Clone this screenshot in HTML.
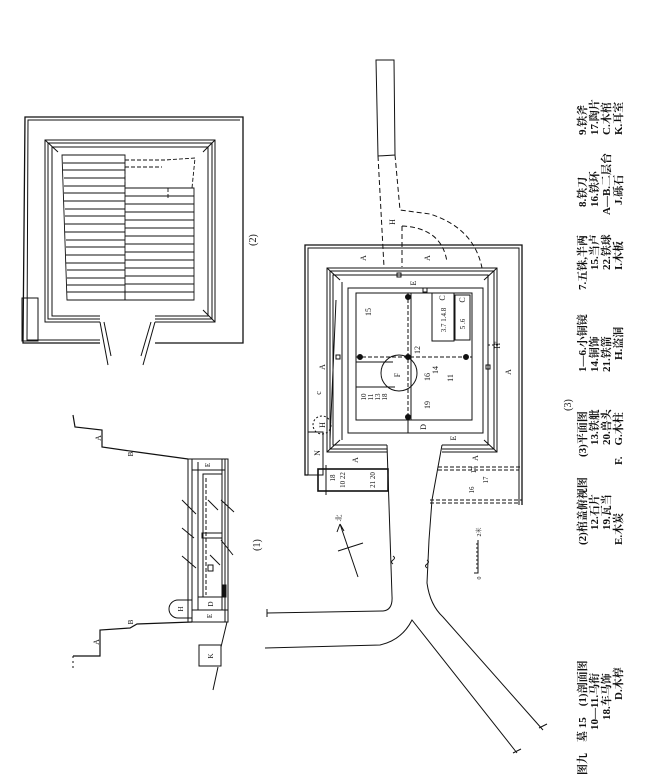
<!DOCTYPE html>
<html><head><meta charset="utf-8"><style>
html,body{margin:0;padding:0;background:#fff;}
#w{position:relative;width:645px;height:780px;overflow:hidden;background:#fff;}
svg{position:absolute;left:0;top:0;}
.t{position:absolute;transform-origin:0 0;transform:rotate(-90deg);white-space:nowrap;font-family:"Liberation Serif","Noto Serif CJK SC",serif;font-size:11px;line-height:12px;font-weight:bold;color:#111;}
</style></head><body><div id="w">
<svg width="645" height="780" viewBox="0 0 645 780" fill="none" stroke="#111" stroke-width="1">
<!-- (2) lid view -->
<path d="M100 343 L23 343 L25 117 L243 117 L243 343 L155 343" stroke-width="1.3"/>
<path d="M100 340 L27 340 L28 120 L240 120"/>
<path d="M100 322 L45 322 L45 140 L215 140 L215 322 L155 322"/>
<path d="M100 319 L48 319 L48 143 L212 143 L212 319 L155 319"/>
<path d="M100 316 L52 316 L52 147 L208 147 L208 316 L155 316"/>
<path d="M45 140 L58 152 M215 140 L203 152 M215 322 L203 310"/>
<path d="M100 322 L108 365 M104 322 L111 356 M155 322 L143 365 M151 322 L141 356"/>
<rect x="22" y="298" width="16" height="43"/>
<g stroke-width="0.9">
<path d="M62 155 L125 155 L125 300 L67 300 Z"/>
<path d="M125 188 L194 188 L194 300 L125 300"/>
<path d="M63 163 H125 M63 170 H125 M64 178 H125 M64 186 H125 M64 193 H125 M64 201 H125 M65 209 H125 M65 216 H125 M65 224 H125 M65 232 H125 M66 240 H125 M66 247 H125 M66 255 H125 M66 263 H125 M67 270 H125 M67 278 H125 M67 285 H125 M67 292 H125"/>
<path d="M125 196 H194 M125 204 H194 M125 212 H194 M125 220 H194 M125 228 H194 M125 236 H194 M125 244 H194 M125 252 H194 M125 260 H194 M125 268 H194 M125 276 H194 M125 284 H194 M125 292 H194"/>
<path d="M125 160 H165 L195 158 L192 188 M125 167 H162 M125 186 V167 M125 188 H165 M168 188 V198" stroke-dasharray="4 2"/>
<path d="M125 290 V300"/>
</g>
<!-- plan (3) top passage -->
<path d="M376 60 L394 60 L395 155 L378 156 Z"/>
<g stroke-dasharray="5 3">
<path d="M378 156 L384 267 M395 155 L400 210 L430 214 Q 474 228 482 268 M402 226 L402 267 M402 226 Q 442 228 447 262"/>
</g>
<!-- outer frame -->
<path d="M308 475 L305 475 L305 245 L522 245 L522 505" stroke-width="1.3"/>
<path d="M308 475 L308 248 L519 248 L519 505"/>
<!-- middle frames -->
<path d="M387 452 L327 452 L327 268 L497 268 L497 452 L442 452"/>
<path d="M387 449 L330 449 L330 271 L494 271 L494 449 L442 449"/>
<path d="M387 445 L333 445 L333 275 L488 275 L488 445 L442 445"/>
<path d="M327 268 L340 280 M497 268 L484 280 M497 452 L484 440 M327 452 L340 440"/>
<rect x="348" y="288" width="135" height="145"/>
<rect x="356" y="293" width="116" height="127"/>
<path d="M342 282 L342 440 M336 300 L330 440"/>
<!-- cross -->
<path d="M408 293 V420 M356 357 H472" stroke-dasharray="4 2"/>
<path d="M411 293 V420 M356 362 H393 M356 387 H395 M408 420 V433"/>
<circle cx="399" cy="373" r="18"/>
<g fill="#111"><circle cx="408" cy="297" r="2.5"/><circle cx="360" cy="357" r="2.5"/><circle cx="408" cy="357" r="2.5"/><circle cx="466" cy="357" r="2.5"/><circle cx="408" cy="417" r="2.5"/></g>
<rect x="397" y="273" width="4" height="4"/><rect x="423" y="288" width="4" height="4"/><rect x="486" y="365" width="4" height="4"/><rect x="336" y="355" width="4" height="4"/>
<rect x="432" y="293" width="22" height="48"/><rect x="455" y="295" width="15" height="45"/>
<circle cx="322" cy="425" r="9" stroke-dasharray="2 2"/>
<path d="M488 345 L500 345" stroke-dasharray="2 2"/>
<rect x="308" y="432" width="15" height="43"/>
<rect x="318" y="469" width="70" height="22" stroke-width="1.6"/>
<path d="M326 465 V495"/>
<!-- bottom right dashed ext -->
<path d="M438 467 H522 M438 470 H519 M430 500 H522 M430 503 H519" stroke-dasharray="4 2"/>
<path d="M522 467 V505 M519 470 V505"/>
<!-- ramp / road -->
<path d="M387 445 L392 596 Q393 610 383 611 L267 613 M267 609 V617"/>
<path d="M442 445 L432 500 L429 540 L427 583 Q430 605 443 617 L543 730 M539 728 L547 724"/>
<path d="M265 648 L380 645 Q402 640 412 620 L517 753 M513 753 L521 749"/>
<path d="M393 556 q3 2 0 4 q-3 2 0 4 M427 560 q3 2 0 4 q-3 2 0 4"/>
<!-- north arrow -->
<path d="M358 577 L340 524 M338 551 L363 543 M340 524 L337 532 M340 524 L344 531"/>
<!-- scale -->
<path d="M478 540 V573 H474 M478 544 H476 M478 548 H476 M478 552 H476 M478 556 H476 M478 560 H476 M478 564 H476 M478 568 H476"/>
<!-- section (1) -->
<path d="M73 415 L75 427 L102 430 L102 447 L137 452 L188 459" stroke-width="1.2"/>
<path d="M192 622 L137 624 L130 628 L100 630 L100 656 L73 656" stroke-width="1.2"/>
<path d="M73 656 V668" stroke-dasharray="2 3"/>
<rect x="188" y="459" width="40" height="163"/>
<path d="M192 459 V622 M198 462 V610 M222 459 V610 M225 459 V622"/>
<path d="M192 470 H225 M198 597 H222 M192 610 H228"/>
<rect x="203" y="474" width="19" height="123"/>
<path d="M206 478 V595" stroke-dasharray="4 2"/>
<rect x="202" y="533" width="20" height="5"/>
<rect x="208" y="565" width="5" height="6"/>
<rect x="222" y="585" width="4" height="12" fill="#111"/>
<path d="M192 600 L178 600 A9 9 0 0 0 178 618 L192 618"/>
<path d="M227 622 L221 647 M218 667 L213 690"/>
<rect x="199" y="645" width="22" height="21"/>
<path d="M182 500 L196 514 M182 528 L194 538 M182 556 L196 568 M208 500 L218 510 M210 555 L220 565 M221 500 L234 512 M221 540 L233 555"/>
</svg>
<svg width="645" height="780" style="font-family:'Liberation Serif','Noto Serif CJK SC',serif;font-size:8px;" fill="#111">
<g text-anchor="middle">
<text transform="rotate(-90 253 240)" x="253" y="243" font-size="10">(2)</text>
<text transform="rotate(-90 257 545)" x="257" y="548" font-size="10">(1)</text>
<text transform="rotate(-90 568 405)" x="568" y="408" font-size="10">(3)</text>
<text transform="rotate(-90 363 258)" x="363" y="261">A</text>
<text transform="rotate(-90 427 258)" x="427" y="261">A</text>
<text transform="rotate(-90 322 367)" x="322" y="370">A</text>
<text transform="rotate(-90 508 372)" x="508" y="375">A</text>
<text transform="rotate(-90 355 460)" x="355" y="463">A</text>
<text transform="rotate(-90 475 458)" x="475" y="461">A</text>
<text transform="rotate(-90 318 393)" x="318" y="396">c</text>
<text transform="rotate(-90 322 425)" x="322" y="428">H</text>
<text transform="rotate(-90 317 453)" x="317" y="456">N</text>
<text transform="rotate(-90 392 222)" x="392" y="225">H</text>
<text transform="rotate(-90 413 283)" x="413" y="286">E</text>
<text transform="rotate(-90 453 438)" x="453" y="441">E</text>
<text transform="rotate(-90 423 427)" x="423" y="430">D</text>
<text transform="rotate(-90 368 312)" x="368" y="315">15</text>
<text transform="rotate(-90 397 375)" x="397" y="378">F</text>
<text transform="rotate(-90 427 377)" x="427" y="380">16</text>
<text transform="rotate(-90 435 370)" x="435" y="373">14</text>
<text transform="rotate(-90 450 378)" x="450" y="381">11</text>
<text transform="rotate(-90 417 350)" x="417" y="353">12</text>
<text transform="rotate(-90 427 405)" x="427" y="408">19</text>
<text transform="rotate(-90 442 298)" x="442" y="301">C</text>
<text transform="rotate(-90 462 300)" x="462" y="303">C</text>
<text transform="rotate(-90 443 320)" x="443" y="323" font-size="7">3.7 1.4.8</text>
<text transform="rotate(-90 462 324)" x="462" y="327" font-size="7">5 .6</text>
<text transform="rotate(-90 497 345)" x="497" y="348">H'</text>
<text transform="rotate(-90 363 397)" x="363" y="400" font-size="7">10</text>
<text transform="rotate(-90 370 397)" x="370" y="400" font-size="7">11</text>
<text transform="rotate(-90 377 397)" x="377" y="400" font-size="7">13</text>
<text transform="rotate(-90 384 397)" x="384" y="400" font-size="7">18</text>
<text transform="rotate(-90 332 478)" x="332" y="481" font-size="7">18</text>
<text transform="rotate(-90 342 480)" x="342" y="483" font-size="7">10 22</text>
<text transform="rotate(-90 372 480)" x="372" y="483" font-size="7">21 20</text>
<text transform="rotate(-90 473 470)" x="473" y="473" font-size="7">17</text>
<text transform="rotate(-90 471 490)" x="471" y="493" font-size="7">16</text>
<text transform="rotate(-90 485 480)" x="485" y="483" font-size="7">17</text>
<text transform="rotate(-90 478 532)" x="478" y="535" font-size="6">2米</text>
<text transform="rotate(-90 478 578)" x="478" y="581" font-size="6">0</text>
<text transform="rotate(-90 338 518)" x="338" y="521" font-size="7">北</text>
<text transform="rotate(-90 98 438)" x="98" y="441">A</text>
<text transform="rotate(-90 130 454)" x="130" y="457" font-size="7">B</text>
<text transform="rotate(-90 96 642)" x="96" y="645">A</text>
<text transform="rotate(-90 130 622)" x="130" y="625" font-size="7">B</text>
<text transform="rotate(-90 207 465)" x="207" y="468" font-size="7">E</text>
<text transform="rotate(-90 210 604)" x="210" y="607" font-size="7">D</text>
<text transform="rotate(-90 209 616)" x="209" y="619" font-size="7">E</text>
<text transform="rotate(-90 180 609)" x="180" y="612" font-size="7">H</text>
<text transform="rotate(-90 210 656)" x="210" y="659" font-size="7">K</text>
</g>
</svg>
<!-- legend -->
<div class="t" style="left:577px;top:775px">图九　墓 15　(1)剖面图</div>
<div class="t" style="left:577px;top:545px">(2)棺盖俯视图</div>
<div class="t" style="left:577px;top:457px">(3)平面图</div>
<div class="t" style="left:577px;top:372px">1—6.小铜镜</div>
<div class="t" style="left:577px;top:290px">7.五铢,半两</div>
<div class="t" style="left:577px;top:207px">8.铁刀</div>
<div class="t" style="left:577px;top:135px">9.铁斧</div>
<div class="t" style="left:589px;top:730px">10—11.马衔</div>
<div class="t" style="left:589px;top:530px">12.石片</div>
<div class="t" style="left:589px;top:445px">13.铁舭</div>
<div class="t" style="left:589px;top:372px">14.铜饰</div>
<div class="t" style="left:589px;top:270px">15.当卢</div>
<div class="t" style="left:589px;top:207px">16.铁环</div>
<div class="t" style="left:589px;top:135px">17.陶片</div>
<div class="t" style="left:601px;top:720px">18.车马饰</div>
<div class="t" style="left:601px;top:530px">19.瓦当</div>
<div class="t" style="left:601px;top:445px">20.兽头</div>
<div class="t" style="left:601px;top:372px">21.铁箭</div>
<div class="t" style="left:601px;top:270px">22.铁球</div>
<div class="t" style="left:601px;top:215px">A—B.二层台</div>
<div class="t" style="left:601px;top:135px">C.木棺</div>
<div class="t" style="left:613px;top:700px">D.木椁</div>
<div class="t" style="left:613px;top:545px">E.木炭</div>
<div class="t" style="left:613px;top:465px">F.　G.木柱</div>
<div class="t" style="left:613px;top:360px">H.盗洞</div>
<div class="t" style="left:613px;top:270px">I.木板</div>
<div class="t" style="left:613px;top:205px">J.砾石</div>
<div class="t" style="left:613px;top:135px">K.耳室</div>
</div></body></html>
